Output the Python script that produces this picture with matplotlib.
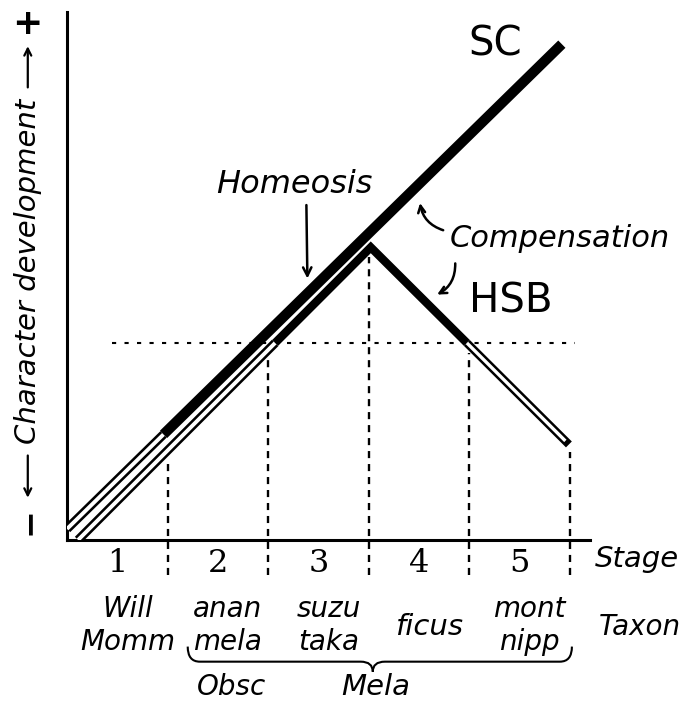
import numpy as np
import matplotlib
matplotlib.use('Agg')
import matplotlib.pyplot as plt
from matplotlib.path import Path
from matplotlib.patches import PathPatch

# stages along the x axis, and the taxa that sit under each one
stages = [1, 2, 3, 4, 5]
taxa_top = ['Will', 'anan', 'suzu', '', 'mont']
taxa_bottom = ['Momm', 'mela', 'taka', '', 'nipp']
taxa_single = ['', '', '', 'ficus', '']
groups = ['Obsc', 'Mela']

# the two development lines (x in stage units)
sc_x = [0.0, 4.92]
sc_y = [0.11, 4.93]
hsb_x = [0.11, 3.02, 4.99]
hsb_y = [0.0, 2.91, 0.95]
sc_solid_from = 0.96
threshold = 1.96

ser = 'DejaVu Serif'
ita = dict(family='DejaVu Sans', style='italic')
narrow = ['Liberation Sans Narrow', 'DejaVu Sans']

fig = plt.figure(figsize=(6.93, 7.01), dpi=100)
ax = fig.add_axes([0.0967, 0.2297, 0.7547, 0.7532])
ax.set_xlim(0, 5.2)
ax.set_ylim(0, 5.25)
for s in ['top', 'right']:
    ax.spines[s].set_visible(False)
for s in ['left', 'bottom']:
    ax.spines[s].set_linewidth(2.2)
ax.set_xticks([])
ax.set_yticks([])


def sc_at(x):
    return np.interp(x, sc_x, sc_y)


def hsb_at(x):
    return np.interp(x, hsb_x, hsb_y)


x_up = np.interp(threshold, hsb_y[:2], hsb_x[:2])
x_dn = np.interp(threshold, hsb_y[2:0:-1], hsb_x[2:0:-1])


def hollow(xs, ys, w_out=6.5, w_in=2.8, trim_end=False):
    ax.plot(xs, ys, color='k', lw=w_out, solid_capstyle='butt', zorder=3)
    xs2, ys2 = list(xs), list(ys)
    if trim_end:
        t = 0.035
        xs2[-1] = xs2[-1] - t * np.sign(xs2[-1] - xs2[0])
        ys2[-1] = ys2[-1] - t * np.sign(ys2[-1] - ys2[0])
    ax.plot(xs2, ys2, color='w', lw=w_in, solid_capstyle='butt', zorder=3)


# reference guides
ax.plot([0.45, 5.05], [threshold, threshold], color='k', lw=1.5,
        linestyle=(0, (2, 4)), clip_on=False, zorder=1)
for s in stages:
    ax.plot([s, s], [-0.35, hsb_at(s) - 0.08], color='k', lw=1.7,
            linestyle=(0, (3, 2.5)), clip_on=False, zorder=1)

# SC line
hollow([sc_x[0], sc_solid_from], [sc_y[0], sc_at(sc_solid_from)])
ax.plot([sc_solid_from, sc_x[1]], [sc_at(sc_solid_from), sc_y[1]], color='k',
        lw=7.4, solid_capstyle='butt', zorder=4)

# HSB line
hollow([hsb_x[0], x_up], [hsb_y[0], threshold])
hollow([x_dn, hsb_x[2]], [threshold, hsb_y[2]], w_out=6.0, w_in=2.4, trim_end=True)
ax.plot([x_up, hsb_x[1], x_dn], [threshold, hsb_y[1], threshold], color='k',
        lw=6.0, solid_capstyle='butt', solid_joinstyle='miter', zorder=4)

# line names
ax.text(3.99, 4.82, 'SC', fontsize=29, family=narrow, va='baseline', ha='left')
ax.text(4.0, 2.26, 'HSB', fontsize=29, family=narrow, va='baseline', ha='left')

# annotations
ax.text(2.26, 3.45, 'Homeosis', fontsize=23, ha='center', va='baseline', **ita)
ax.annotate('', xy=(2.39, 2.6), xytext=(2.38, 3.33),
            arrowprops=dict(arrowstyle='->,head_length=0.6,head_width=0.3',
                            lw=1.8, color='k', shrinkA=0, shrinkB=0))
ax.text(3.81, 2.91, 'Compensation', fontsize=22, ha='left', va='baseline', **ita)
ax.annotate('', xy=(3.51, 3.35), xytext=(3.74, 3.08),
            arrowprops=dict(arrowstyle='->,head_length=0.5,head_width=0.25',
                            lw=1.8, color='k', shrinkA=0, shrinkB=0,
                            connectionstyle='arc3,rad=-0.3'))
ax.annotate('', xy=(3.68, 2.44), xytext=(3.86, 2.75),
            arrowprops=dict(arrowstyle='->,head_length=0.5,head_width=0.25',
                            lw=1.8, color='k', shrinkA=0, shrinkB=0,
                            connectionstyle='arc3,rad=-0.3'))

# stage numbers and taxa
for i, s in enumerate(stages):
    ax.text(s - 0.5, -0.32, str(s), fontsize=23, family=ser, ha='center', va='baseline')
    cx = s - 0.4
    if taxa_top[i]:
        ax.text(cx, -0.765, taxa_top[i], fontsize=20, ha='center', va='baseline', **ita)
        ax.text(cx, -1.09, taxa_bottom[i], fontsize=20, ha='center', va='baseline', **ita)
    if taxa_single[i]:
        ax.text(cx, -0.94, taxa_single[i], fontsize=21, ha='center', va='baseline', **ita)
ax.text(5.67, -0.27, 'Stage', fontsize=21, ha='center', va='baseline', **ita)
ax.text(5.70, -0.94, 'Taxon', fontsize=20, ha='center', va='baseline', **ita)

# brace under the Mela taxa
bl, br, bt = 1.2, 5.02, 3.04
by, hook, tip = -1.21, 0.15, 0.10
verts = [(bl, by + hook), (bl, by), (bl + 0.12, by),
         (bt - 0.12, by), (bt, by), (bt, by - tip),
         (bt, by), (bt + 0.12, by),
         (br - 0.12, by), (br, by), (br, by + hook)]
codes = [Path.MOVETO, Path.CURVE3, Path.CURVE3,
         Path.LINETO, Path.CURVE3, Path.CURVE3,
         Path.CURVE3, Path.CURVE3,
         Path.LINETO, Path.CURVE3, Path.CURVE3]
ax.add_patch(PathPatch(Path(verts, codes), fill=False, lw=1.5, color='k', clip_on=False))
ax.text(1.64, -1.54, groups[0], fontsize=20, ha='center', va='baseline', **ita)
ax.text(3.07, -1.54, groups[1], fontsize=21, ha='center', va='baseline', **ita)

# y axis label
ax.text(-0.39, 5.13, '+', fontsize=26, weight='bold', ha='center', va='center')
ax.text(-0.39, 2.67, 'Character development', fontsize=21, rotation=90,
        ha='center', va='center', **ita)
ax.text(-0.39, 0.19, '\u2212', fontsize=24, weight='bold', rotation=90,
        ha='center', va='center')
ax.annotate('', xy=(-0.39, 4.91), xytext=(-0.39, 4.5), annotation_clip=False,
            arrowprops=dict(arrowstyle='->,head_length=0.5,head_width=0.25',
                            lw=1.6, color='k', shrinkA=0, shrinkB=0))
ax.annotate('', xy=(-0.39, 0.42), xytext=(-0.39, 0.84), annotation_clip=False,
            arrowprops=dict(arrowstyle='->,head_length=0.5,head_width=0.25',
                            lw=1.6, color='k', shrinkA=0, shrinkB=0))

fig.savefig('out.png', dpi=100)
